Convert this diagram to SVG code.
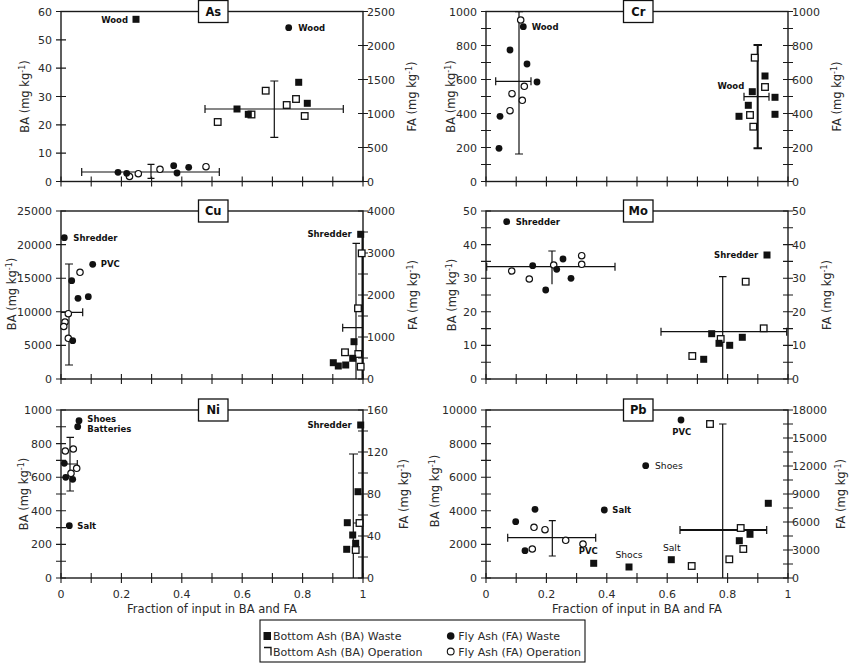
<svg xmlns="http://www.w3.org/2000/svg" xmlns:xlink="http://www.w3.org/1999/xlink" width="850" height="663" viewBox="0 0 850 663">
<style>
.ax{fill:none;stroke:#1a1a1a;stroke-width:1.4}
.tk{fill:none;stroke:#1a1a1a;stroke-width:1.1}
.eb{fill:none;stroke:#111;stroke-width:1.2}
.ebt{fill:none;stroke:#111;stroke-width:2}
.t{font-family:"DejaVu Sans",sans-serif;font-size:11px;fill:#2a2a2a}
.tl{text-anchor:end}
.tt{font-family:"DejaVu Sans",sans-serif;font-size:11.5px;font-weight:bold;fill:#111;text-anchor:middle}
.lb{font-family:"DejaVu Sans",sans-serif;font-size:8.5px;font-weight:bold;fill:#111}
.lr{font-family:"DejaVu Sans",sans-serif;font-size:9.2px;fill:#111}
.at{font-family:"DejaVu Sans",sans-serif;font-size:11.5px;fill:#2a2a2a;text-anchor:middle}
.box{fill:#fff;stroke:#111;stroke-width:1.3}
.lg{font-family:"DejaVu Sans",sans-serif;font-size:11px;fill:#2a2a2a}
</style>
<defs>
<rect id="fsq" x="-3.5" y="-3.5" width="7" height="7" fill="#111"/>
<rect id="osq" x="-3.3" y="-3.3" width="6.6" height="6.6" fill="#fff" stroke="#111" stroke-width="1.3"/>
<circle id="fci" r="3.4" fill="#111"/>
<circle id="oci" r="3.2" fill="#fff" stroke="#111" stroke-width="1.2"/>
</defs>
<rect width="850" height="663" fill="#fff"/>

<!-- Panel As -->
<g id="panel-As">
<rect class="ax" x="61" y="11.5" width="302" height="170"/>
<path class="tk" d="M61,176.5V186.5M91.2,176.5V186.5M121.4,176.5V186.5M151.6,176.5V186.5M181.8,176.5V186.5M212,176.5V186.5M242.2,176.5V186.5M272.4,176.5V186.5M302.6,176.5V186.5M332.8,176.5V186.5M363,176.5V186.5"/>
<path class="tk" d="M56,181.5H66M56,153.17H66M56,124.83H66M56,96.5H66M56,68.17H66M56,39.83H66M56,11.5H66"/>
<path class="tk" d="M358,181.5H368M358,147.5H368M358,113.5H368M358,79.5H368M358,45.5H368M358,11.5H368"/>
<g class="t tl"><text x="52" y="15.5">60</text><text x="52" y="43.8">50</text><text x="52" y="72.2">40</text><text x="52" y="100.5">30</text><text x="52" y="128.8">20</text><text x="52" y="157.2">10</text><text x="52" y="185.5">0</text></g>
<g class="t"><text x="367" y="15.5">2500</text><text x="367" y="49.5">2000</text><text x="367" y="83.5">1500</text><text x="367" y="117.5">1000</text><text x="367" y="151.5">500</text><text x="367" y="185.5">0</text></g>
<text class="at" transform="translate(29,96.5) rotate(-90)">BA (mg kg<tspan dy="-4" font-size="8">-1</tspan><tspan dy="4">)</tspan></text>
<text class="at" transform="translate(416,96.5) rotate(-90)">FA (mg kg<tspan dy="-4" font-size="8">-1</tspan><tspan dy="4">)</tspan></text>
<rect class="box" x="198.5" y="0.5" width="29.5" height="22"/>
<text class="tt" x="213.25" y="15.5">As</text>
<g class="connectors">
<path class="eb" d="M205,109H343.3M205,105V113M343.3,105V113M274.3,81V137.3M270.3,81H278.3M270.3,137.3H278.3"/>
<path class="eb" d="M81.7,172H219.3M81.7,168V176M219.3,168V176M151,164.3V178.3M147.5,164.3H154.5M147.5,178.3H154.5"/>
</g>
<use href="#osq" x="265.7" y="90.7"/><use href="#osq" x="296" y="99"/><use href="#osq" x="286.7" y="105"/><use href="#osq" x="304.7" y="116"/><use href="#osq" x="217.7" y="122"/><use href="#osq" x="251.5" y="114.5"/>
<use href="#fsq" x="136" y="19.3"/><use href="#fsq" x="298.7" y="82.3"/><use href="#fsq" x="307.3" y="103.3"/><use href="#fsq" x="237" y="109"/><use href="#fsq" x="248.3" y="114.3"/>
<use href="#oci" x="129.5" y="176.5"/><use href="#oci" x="138.3" y="173.7"/><use href="#oci" x="160" y="169.3"/><use href="#oci" x="206" y="166.7"/>
<use href="#fci" x="288.7" y="27.7"/><use href="#fci" x="118" y="172.3"/><use href="#fci" x="126.7" y="173.3"/><use href="#fci" x="173.7" y="165.7"/><use href="#fci" x="177" y="173"/><use href="#fci" x="188.7" y="167.3"/>
<text class="lb" x="128" y="23" text-anchor="end">Wood</text>
<text class="lb" x="298.3" y="30.7">Wood</text>
</g>

<!-- Panel Cr -->
<g id="panel-Cr">
<rect class="ax" x="486" y="11.5" width="302" height="170"/>
<path class="tk" d="M486,176.5V186.5M516.2,176.5V186.5M546.4,176.5V186.5M576.6,176.5V186.5M606.8,176.5V186.5M637,176.5V186.5M667.2,176.5V186.5M697.4,176.5V186.5M727.6,176.5V186.5M757.8,176.5V186.5M788,176.5V186.5"/>
<path class="tk" d="M481,181.5H491M481,164.5H491M481,147.5H491M481,130.5H491M481,113.5H491M481,96.5H491M481,79.5H491M481,62.5H491M481,45.5H491M481,28.5H491M481,11.5H491"/>
<path class="tk" d="M783,181.5H793M783,164.5H793M783,147.5H793M783,130.5H793M783,113.5H793M783,96.5H793M783,79.5H793M783,62.5H793M783,45.5H793M783,28.5H793M783,11.5H793"/>
<g class="t tl"><text x="477" y="15.5">1000</text><text x="477" y="49.5">800</text><text x="477" y="83.5">600</text><text x="477" y="117.5">400</text><text x="477" y="151.5">200</text><text x="477" y="185.5">0</text></g>
<g class="t"><text x="792" y="15.5">1000</text><text x="792" y="49.5">800</text><text x="792" y="83.5">600</text><text x="792" y="117.5">400</text><text x="792" y="151.5">200</text><text x="792" y="185.5">0</text></g>
<text class="at" transform="translate(454.5,96.5) rotate(-90)">BA (mg kg<tspan dy="-4" font-size="8">-1</tspan><tspan dy="4">)</tspan></text>
<text class="at" transform="translate(841,96.5) rotate(-90)">FA (mg kg<tspan dy="-4" font-size="8">-1</tspan><tspan dy="4">)</tspan></text>
<rect class="box" x="623.5" y="0.5" width="29.5" height="22"/>
<text class="tt" x="638.25" y="15.5">Cr</text>
<g class="connectors">
<path class="eb" d="M519,11.7V154M515,11.7H523M515,154H523M495.7,81.3H531M495.7,77.3V85.3M531,77.3V85.3"/>
<path class="ebt" d="M757.7,45V148.3M753.5,45H762M753.5,148.3H762"/>
<path class="eb" d="M744,96.7H769M744,92.7V100.7M769,92.7V100.7"/>
</g>
<use href="#oci" x="520.7" y="20"/><use href="#oci" x="510" y="110.7"/><use href="#oci" x="512" y="93.7"/><use href="#oci" x="522.3" y="100.3"/><use href="#oci" x="524.3" y="86.3"/>
<use href="#fci" x="499" y="148.3"/><use href="#fci" x="500" y="116.3"/><use href="#fci" x="510" y="50"/><use href="#fci" x="523.3" y="26.7"/><use href="#fci" x="527" y="64"/><use href="#fci" x="537" y="82"/>
<use href="#osq" x="754.7" y="57.7"/><use href="#osq" x="765" y="87"/><use href="#osq" x="750" y="115"/><use href="#osq" x="753.3" y="126.7"/>
<use href="#fsq" x="739" y="116.3"/><use href="#fsq" x="748.3" y="105.3"/><use href="#fsq" x="752.3" y="91.7"/><use href="#fsq" x="765" y="76"/><use href="#fsq" x="775" y="97.3"/><use href="#fsq" x="775" y="114.3"/>
<text class="lb" x="531.7" y="29.7">Wood</text>
<text class="lb" x="744.3" y="89" text-anchor="end">Wood</text>
</g>

<!-- Panel Cu -->
<g id="panel-Cu">
<rect class="ax" x="61" y="211" width="302" height="168"/>
<path class="tk" d="M61,374V384M91.2,374V384M121.4,374V384M151.6,374V384M181.8,374V384M212,374V384M242.2,374V384M272.4,374V384M302.6,374V384M332.8,374V384M363,374V384"/>
<path class="tk" d="M56,379H66M56,345.4H66M56,311.8H66M56,278.2H66M56,244.6H66M56,211H66"/>
<path class="tk" d="M358,379H368M358,358H368M358,337H368M358,316H368M358,295H368M358,274H368M358,253H368M358,232H368M358,211H368"/>
<g class="t tl"><text x="52" y="215">25000</text><text x="52" y="248.6">20000</text><text x="52" y="282.2">15000</text><text x="52" y="315.8">10000</text><text x="52" y="349.4">5000</text><text x="52" y="383">0</text></g>
<g class="t"><text x="367" y="215">4000</text><text x="367" y="257">3000</text><text x="367" y="299">2000</text><text x="367" y="341">1000</text><text x="367" y="383">0</text></g>
<text class="at" transform="translate(15.5,294) rotate(-90)">BA (mg kg<tspan dy="-4" font-size="8">-1</tspan><tspan dy="4">)</tspan></text>
<text class="at" transform="translate(417,295) rotate(-90)">FA (mg kg<tspan dy="-4" font-size="8">-1</tspan><tspan dy="4">)</tspan></text>
<rect class="box" x="198.5" y="200" width="29.5" height="22"/>
<text class="tt" x="213.25" y="215">Cu</text>
<g class="connectors">
<path class="eb" d="M69,264V365M65,264H73M65,365H73M61,312.3H82.7M82.7,308.3V316.3"/>
<path class="eb" d="M356,243.3V379M352.5,243.3H360M342.7,327.7H363M342.7,323.7V331.7"/>
<path class="ebt" d="M362.5,232V379"/>
</g>
<use href="#oci" x="80" y="272.3"/><use href="#oci" x="68.3" y="313.7"/><use href="#oci" x="65" y="322"/><use href="#oci" x="63.8" y="326.5"/><use href="#oci" x="68.3" y="338.3"/>
<use href="#fci" x="64.3" y="237.7"/><use href="#fci" x="92.7" y="264.3"/><use href="#fci" x="71.7" y="280.7"/><use href="#fci" x="78" y="298.3"/><use href="#fci" x="88.3" y="296.7"/><use href="#fci" x="72.7" y="340.7"/>
<use href="#osq" x="361.7" y="253.3"/><use href="#osq" x="358" y="308.3"/><use href="#osq" x="345" y="352.3"/><use href="#osq" x="358.3" y="354"/><use href="#osq" x="360.7" y="366.7"/>
<use href="#fsq" x="360.7" y="234.3"/><use href="#fsq" x="354" y="341.7"/><use href="#fsq" x="333.3" y="362.7"/><use href="#fsq" x="338.3" y="366"/><use href="#fsq" x="345.7" y="365"/><use href="#fsq" x="352.7" y="358.3"/>
<text class="lb" x="73.3" y="240.7">Shredder</text>
<text class="lb" x="100.7" y="267.3">PVC</text>
<text class="lb" x="351.7" y="237.3" text-anchor="end">Shredder</text>
</g>

<!-- Panel Mo -->
<g id="panel-Mo">
<rect class="ax" x="486" y="211" width="302" height="168"/>
<path class="tk" d="M486,374V384M516.2,374V384M546.4,374V384M576.6,374V384M606.8,374V384M637,374V384M667.2,374V384M697.4,374V384M727.6,374V384M757.8,374V384M788,374V384"/>
<path class="tk" d="M481,379H491M481,362.2H491M481,345.4H491M481,328.6H491M481,311.8H491M481,295H491M481,278.2H491M481,261.4H491M481,244.6H491M481,227.8H491M481,211H491"/>
<path class="tk" d="M783,379H793M783,362.2H793M783,345.4H793M783,328.6H793M783,311.8H793M783,295H793M783,278.2H793M783,261.4H793M783,244.6H793M783,227.8H793M783,211H793"/>
<g class="t tl"><text x="477" y="215">50</text><text x="477" y="248.6">40</text><text x="477" y="282.2">30</text><text x="477" y="315.8">20</text><text x="477" y="349.4">10</text><text x="477" y="383">0</text></g>
<g class="t"><text x="792" y="215">50</text><text x="792" y="248.6">40</text><text x="792" y="282.2">30</text><text x="792" y="315.8">20</text><text x="792" y="349.4">10</text><text x="792" y="383">0</text></g>
<text class="at" transform="translate(456,295) rotate(-90)">BA (mg kg<tspan dy="-4" font-size="8">-1</tspan><tspan dy="4">)</tspan></text>
<text class="at" transform="translate(831,295) rotate(-90)">FA (mg kg<tspan dy="-4" font-size="8">-1</tspan><tspan dy="4">)</tspan></text>
<rect class="box" x="623.5" y="200" width="29.5" height="22"/>
<text class="tt" x="638.25" y="215">Mo</text>
<g class="connectors">
<path class="eb" d="M486.7,266.7H615M486.7,262.7V270.7M615,262.7V270.7M552,251V284.3M548.3,251H555.7"/>
<path class="eb" d="M722.7,276.7V379M719,276.7H726.5M661,331.7H786.7M661,327.7V335.7M786.7,327.7V335.7"/>
</g>
<use href="#oci" x="511.7" y="271"/><use href="#oci" x="529.3" y="279"/><use href="#oci" x="553.7" y="265"/><use href="#oci" x="581.7" y="255.7"/><use href="#oci" x="581.7" y="264.3"/>
<use href="#fci" x="506.7" y="221.7"/><use href="#fci" x="532.7" y="265.7"/><use href="#fci" x="556.7" y="269.3"/><use href="#fci" x="563" y="259"/><use href="#fci" x="545.7" y="290"/><use href="#fci" x="571" y="278.3"/>
<use href="#osq" x="745.7" y="281.7"/><use href="#osq" x="763.7" y="328.3"/><use href="#osq" x="720.7" y="339"/><use href="#osq" x="692.3" y="356"/>
<use href="#fsq" x="767" y="255"/><use href="#fsq" x="711.7" y="333.7"/><use href="#fsq" x="719" y="343.3"/><use href="#fsq" x="729.7" y="345.3"/><use href="#fsq" x="742.3" y="337.3"/><use href="#fsq" x="703.7" y="359.3"/>
<text class="lb" x="515.7" y="224.7">Shredder</text>
<text class="lb" x="758.3" y="258" text-anchor="end">Shredder</text>
</g>

<!-- Panel Ni -->
<g id="panel-Ni">
<rect class="ax" x="61" y="410" width="302" height="168"/>
<path class="tk" d="M61,573V583M91.2,573V583M121.4,573V583M151.6,573V583M181.8,573V583M212,573V583M242.2,573V583M272.4,573V583M302.6,573V583M332.8,573V583M363,573V583"/>
<path class="tk" d="M56,578H66M56,561.2H66M56,544.4H66M56,527.6H66M56,510.8H66M56,494H66M56,477.2H66M56,460.4H66M56,443.6H66M56,426.8H66M56,410H66"/>
<path class="tk" d="M358,578H368M358,557H368M358,536H368M358,515H368M358,494H368M358,473H368M358,452H368M358,431H368M358,410H368"/>
<g class="t tl"><text x="52" y="414">1000</text><text x="52" y="447.6">800</text><text x="52" y="481.2">600</text><text x="52" y="514.8">400</text><text x="52" y="548.4">200</text><text x="52" y="582">0</text></g>
<g class="t"><text x="367" y="414">160</text><text x="367" y="456">120</text><text x="367" y="498">80</text><text x="367" y="540">40</text><text x="367" y="582">0</text></g>
<g class="t" text-anchor="middle"><text x="61" y="598">0</text><text x="121.4" y="598">0.2</text><text x="181.8" y="598">0.4</text><text x="242.2" y="598">0.6</text><text x="302.6" y="598">0.8</text><text x="363" y="598">1</text></g>
<text class="at" x="212" y="613">Fraction of input in BA and FA</text>
<text class="at" transform="translate(27.5,494) rotate(-90)">BA (mg kg<tspan dy="-4" font-size="8">-1</tspan><tspan dy="4">)</tspan></text>
<text class="at" transform="translate(408,494) rotate(-90)">FA (mg kg<tspan dy="-4" font-size="8">-1</tspan><tspan dy="4">)</tspan></text>
<rect class="box" x="198.5" y="399" width="29.5" height="22"/>
<text class="tt" x="213.25" y="414">Ni</text>
<g class="connectors">
<path class="eb" d="M70,437.3V491M66.5,437.3H74M66.5,491H74M63,464H77.3M77.3,460V468"/>
<path class="eb" d="M353.3,454V578M349,454H358M353,523H363"/>
<path class="ebt" d="M362.5,428V578"/>
</g>
<use href="#oci" x="65.3" y="451"/><use href="#oci" x="73.3" y="449"/><use href="#oci" x="76.7" y="468.3"/><use href="#oci" x="71" y="473.3"/>
<use href="#fci" x="79" y="420.7"/><use href="#fci" x="77.7" y="426.7"/><use href="#fci" x="64.3" y="463.3"/><use href="#fci" x="65.7" y="477.3"/><use href="#fci" x="72.7" y="479.3"/><use href="#fci" x="69.3" y="525.7"/>
<use href="#osq" x="359.5" y="523"/><use href="#osq" x="355.7" y="550"/>
<use href="#fsq" x="360.7" y="425"/><use href="#fsq" x="358" y="491.7"/><use href="#fsq" x="347.3" y="522.7"/><use href="#fsq" x="352.7" y="535"/><use href="#fsq" x="355.7" y="543.3"/><use href="#fsq" x="346.7" y="549.3"/>
<text class="lb" x="87.3" y="422">Shoes</text>
<text class="lb" x="87.3" y="432.3">Batteries</text>
<text class="lb" x="77.3" y="528.7">Salt</text>
<text class="lb" x="351.7" y="428" text-anchor="end">Shredder</text>
</g>

<!-- Panel Pb -->
<g id="panel-Pb">
<rect class="ax" x="486" y="410" width="302" height="168"/>
<path class="tk" d="M486,573V583M516.2,573V583M546.4,573V583M576.6,573V583M606.8,573V583M637,573V583M667.2,573V583M697.4,573V583M727.6,573V583M757.8,573V583M788,573V583"/>
<path class="tk" d="M481,578H491M481,561.2H491M481,544.4H491M481,527.6H491M481,510.8H491M481,494H491M481,477.2H491M481,460.4H491M481,443.6H491M481,426.8H491M481,410H491"/>
<path class="tk" d="M783,578H793M783,564H793M783,550H793M783,536H793M783,522H793M783,508H793M783,494H793M783,480H793M783,466H793M783,452H793M783,438H793M783,424H793M783,410H793"/>
<g class="t tl"><text x="477" y="414">10000</text><text x="477" y="447.6">8000</text><text x="477" y="481.2">6000</text><text x="477" y="514.8">4000</text><text x="477" y="548.4">2000</text><text x="477" y="582">0</text></g>
<g class="t"><text x="792" y="414">18000</text><text x="792" y="442">15000</text><text x="792" y="470">12000</text><text x="792" y="498">9000</text><text x="792" y="526">6000</text><text x="792" y="554">3000</text><text x="792" y="582">0</text></g>
<g class="t" text-anchor="middle"><text x="486" y="598">0</text><text x="546.4" y="598">0.2</text><text x="606.8" y="598">0.4</text><text x="667.2" y="598">0.6</text><text x="727.6" y="598">0.8</text><text x="788" y="598">1</text></g>
<text class="at" x="637" y="613">Fraction of input in BA and FA</text>
<text class="at" transform="translate(438.5,491) rotate(-90)">BA (mg kg<tspan dy="-4" font-size="8">-1</tspan><tspan dy="4">)</tspan></text>
<text class="at" transform="translate(845,494) rotate(-90)">FA (mg kg<tspan dy="-4" font-size="8">-1</tspan><tspan dy="4">)</tspan></text>
<rect class="box" x="623.5" y="399" width="29.5" height="22"/>
<text class="tt" x="638.25" y="414">Pb</text>
<g class="connectors">
<path class="eb" d="M507.7,537.7H595.7M507.7,533.7V541.7M595.7,533.7V541.7M552.3,520.7V556M548.8,520.7H555.8M548.8,556H555.8"/>
<path class="eb" d="M722.7,424V578M719,424H726.5M680,526V534M766.7,526V534"/>
<path class="ebt" d="M680,530H766.7"/>
</g>
<use href="#oci" x="534" y="527.3"/><use href="#oci" x="545" y="529.7"/><use href="#oci" x="565.7" y="540.3"/><use href="#oci" x="583" y="544"/><use href="#oci" x="532.3" y="549"/>
<use href="#fci" x="681" y="420"/><use href="#fci" x="645.7" y="465.7"/><use href="#fci" x="604.3" y="510"/><use href="#fci" x="515.7" y="521.7"/><use href="#fci" x="535" y="509.3"/><use href="#fci" x="525" y="550.7"/>
<use href="#osq" x="710" y="424"/><use href="#osq" x="740.7" y="528"/><use href="#osq" x="743.3" y="549"/><use href="#osq" x="729.3" y="559.3"/><use href="#osq" x="691.7" y="566"/>
<use href="#fsq" x="593.7" y="563.3"/><use href="#fsq" x="629" y="567"/><use href="#fsq" x="671.3" y="559.7"/><use href="#fsq" x="739.3" y="540.7"/><use href="#fsq" x="750" y="534.3"/><use href="#fsq" x="768.3" y="503.3"/>
<text class="lb" x="681.7" y="435.3" text-anchor="middle">PVC</text>
<text class="lr" x="655" y="468.7">Shoes</text>
<text class="lb" x="612.3" y="513">Salt</text>
<text class="lb" x="588.3" y="554" text-anchor="middle">PVC</text>
<text class="lr" x="629" y="558" text-anchor="middle">Shocs</text>
<text class="lr" x="671.7" y="550.7" text-anchor="middle">Salt</text>
</g>

<!-- Legend -->
<g id="legend">
<rect x="260" y="620" width="325" height="42" fill="#fff" stroke="#111" stroke-width="1.1"/>
<rect x="263.5" y="632" width="7.5" height="8" fill="#111"/>
<path d="M264,647.5H271V655.5" fill="none" stroke="#111" stroke-width="1.3"/>
<circle cx="450.7" cy="636" r="3.8" fill="#111"/>
<circle cx="450.7" cy="651.5" r="3.4" fill="#fff" stroke="#111" stroke-width="1.1"/>
<text class="lg" x="273" y="640">Bottom Ash (BA) Waste</text>
<text class="lg" x="273" y="655.5">Bottom Ash (BA) Operation</text>
<text class="lg" x="458.3" y="640">Fly Ash (FA) Waste</text>
<text class="lg" x="458.3" y="655.5">Fly Ash (FA) Operation</text>
</g>
</svg>
